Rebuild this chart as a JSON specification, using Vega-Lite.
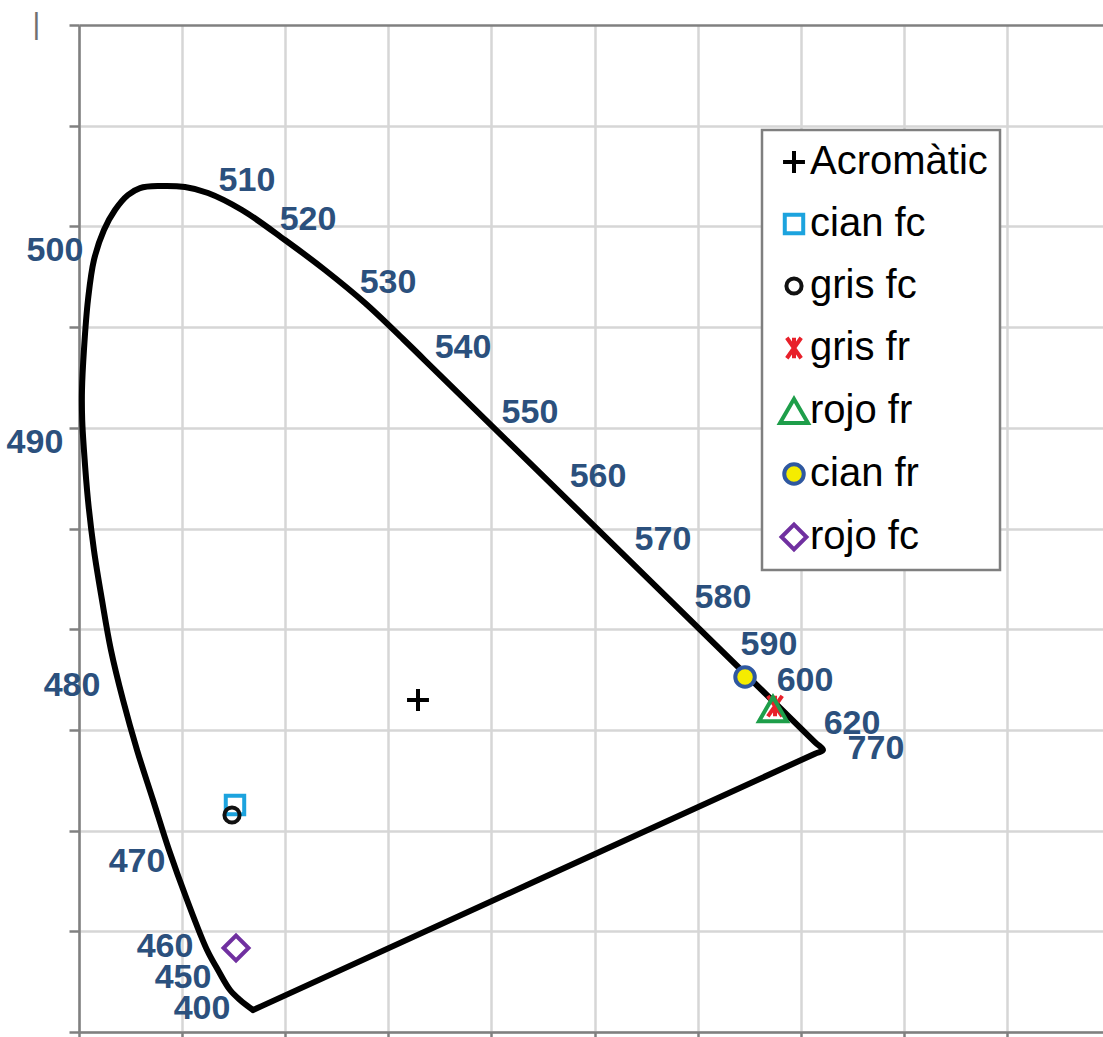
{
  "$schema": "https://vega.github.io/schema/vega-lite/v6.json",
  "width": 1024,
  "height": 1007,
  "autosize": {"type": "none"},
  "padding": {"left": 79, "top": 25, "right": 0, "bottom": 5},
  "background": "white",
  "config": {
    "view": {"stroke": null},
    "font": "Liberation Sans",
    "axis": {
      "labels": false,
      "title": null,
      "domainColor": "#808080",
      "domainWidth": 2.5,
      "tickColor": "#808080",
      "tickWidth": 2.5,
      "tickSize": 10,
      "gridColor": "#d6d6d6",
      "gridWidth": 2.5
    },
    "legend": {
      "orient": "none",
      "legendX": 683,
      "legendY": 105,
      "title": null,
      "labelFontSize": 40,
      "labelFont": "Liberation Sans",
      "labelColor": "black",
      "padding": 12,
      "rowPadding": 22,
      "strokeColor": "#7f7f7f",
      "strokeWidth": 2.5,
      "fillColor": "white",
      "labelOffset": -4,
      "symbolStrokeWidth": 4,
      "labelLimit": 400
    }
  },
  "datasets": {
    "locus": [
      {"i": 0, "x": 1.688, "y": 0.218},
      {"i": 1, "x": 1.562, "y": 0.318},
      {"i": 2, "x": 1.465, "y": 0.417},
      {"i": 3, "x": 1.348, "y": 0.616},
      {"i": 4, "x": 1.242, "y": 0.814},
      {"i": 5, "x": 1.048, "y": 1.311},
      {"i": 6, "x": 0.873, "y": 1.807},
      {"i": 7, "x": 0.718, "y": 2.304},
      {"i": 8, "x": 0.563, "y": 2.800},
      {"i": 9, "x": 0.427, "y": 3.297},
      {"i": 10, "x": 0.310, "y": 3.793},
      {"i": 11, "x": 0.223, "y": 4.290},
      {"i": 12, "x": 0.145, "y": 4.786},
      {"i": 13, "x": 0.087, "y": 5.283},
      {"i": 14, "x": 0.048, "y": 5.780},
      {"i": 15, "x": 0.031, "y": 6.078},
      {"i": 16, "x": 0.029, "y": 6.375},
      {"i": 17, "x": 0.048, "y": 6.773},
      {"i": 18, "x": 0.087, "y": 7.269},
      {"i": 19, "x": 0.145, "y": 7.666},
      {"i": 20, "x": 0.242, "y": 7.964},
      {"i": 21, "x": 0.349, "y": 8.163},
      {"i": 22, "x": 0.475, "y": 8.312},
      {"i": 23, "x": 0.592, "y": 8.381},
      {"i": 24, "x": 0.786, "y": 8.401},
      {"i": 25, "x": 1.028, "y": 8.391},
      {"i": 26, "x": 1.251, "y": 8.332},
      {"i": 27, "x": 1.581, "y": 8.163},
      {"i": 28, "x": 1.998, "y": 7.865},
      {"i": 29, "x": 2.386, "y": 7.567},
      {"i": 30, "x": 2.774, "y": 7.239},
      {"i": 31, "x": 3.143, "y": 6.882},
      {"i": 32, "x": 3.347, "y": 6.678},
      {"i": 33, "x": 7.135, "y": 2.882},
      {"i": 34, "x": 7.216, "y": 2.800},
      {"i": 35, "x": 7.133, "y": 2.761},
      {"i": 36, "x": 1.771, "y": 0.257},
      {"i": 37, "x": 1.688, "y": 0.218}
    ],
    "labels": [
      {"nm": "510", "x": 1.629, "y": 8.451},
      {"nm": "520", "x": 2.221, "y": 8.064},
      {"nm": "530", "x": 2.997, "y": 7.438},
      {"nm": "540", "x": 3.725, "y": 6.792},
      {"nm": "550", "x": 4.374, "y": 6.147},
      {"nm": "560", "x": 5.034, "y": 5.511},
      {"nm": "570", "x": 5.664, "y": 4.886},
      {"nm": "580", "x": 6.246, "y": 4.310},
      {"nm": "590", "x": 6.692, "y": 3.843},
      {"nm": "600", "x": 7.042, "y": 3.486},
      {"nm": "620", "x": 7.498, "y": 3.059},
      {"nm": "770", "x": 7.730, "y": 2.810},
      {"nm": "500", "x": -0.233, "y": 7.756},
      {"nm": "490", "x": -0.427, "y": 5.849},
      {"nm": "480", "x": -0.068, "y": 3.436},
      {"nm": "470", "x": 0.563, "y": 1.688},
      {"nm": "460", "x": 0.834, "y": 0.844},
      {"nm": "450", "x": 1.009, "y": 0.536},
      {"nm": "400", "x": 1.193, "y": 0.228}
    ],
    "points": [
      {"serie": "Acromàtic", "x": 3.288, "y": 3.297},
      {"serie": "cian fc", "x": 1.513, "y": 2.254},
      {"serie": "gris fc", "x": 1.484, "y": 2.155},
      {"serie": "gris fr", "x": 6.751, "y": 3.237},
      {"serie": "rojo fr", "x": 6.731, "y": 3.207},
      {"serie": "cian fr", "x": 6.460, "y": 3.525},
      {"serie": "rojo fc", "x": 1.523, "y": 0.834}
    ]
  },
  "layer": [
    {
      "data": {"name": "locus"},
      "mark": {"type": "line", "stroke": "black", "strokeWidth": 6, "strokeJoin": "round", "strokeCap": "round", "interpolate": "catmull-rom"},
      "encoding": {
        "x": {
          "field": "x", "type": "quantitative",
          "scale": {"domain": [0, 9.932], "nice": false, "zero": false},
          "axis": {"values": [0, 1, 2, 3, 4, 5, 6, 7, 8, 9], "grid": true}
        },
        "y": {
          "field": "y", "type": "quantitative",
          "scale": {"domain": [0, 10], "nice": false, "zero": false},
          "axis": {
            "values": [0, 1, 2, 3, 4, 5, 6, 7, 8, 9, 10],
            "grid": true,
            "gridColor": {"condition": {"test": "datum.value === 10", "value": "#808080"}, "value": "#d6d6d6"},
            "title": "|",
            "titleAngle": 0,
            "titleX": -43,
            "titleY": -1,
            "titleFontSize": 30,
            "titleFontWeight": "normal",
            "titleColor": "#707070",
            "titleAlign": "center",
            "titleBaseline": "middle"
          }
        },
        "order": {"field": "i", "type": "quantitative"}
      }
    },
    {
      "data": {"name": "labels"},
      "mark": {"type": "text", "font": "Liberation Sans", "fontWeight": "bold", "fontSize": 34, "fill": "#2B507D", "align": "center", "baseline": "middle"},
      "encoding": {
        "x": {"field": "x", "type": "quantitative"},
        "y": {"field": "y", "type": "quantitative"},
        "text": {"field": "nm"}
      }
    },
    {
      "data": {"name": "points"},
      "mark": {"type": "point", "strokeWidth": 4, "opacity": 1, "filled": false},
      "encoding": {
        "x": {"field": "x", "type": "quantitative"},
        "y": {"field": "y", "type": "quantitative"},
        "shape": {
          "field": "serie", "type": "nominal",
          "scale": {
            "domain": ["Acromàtic", "cian fc", "gris fc", "gris fr", "rojo fr", "cian fr", "rojo fc"],
            "range": ["M-1,0L1,0M0,-1L0,1", "square", "circle", "M0,-1L0,1M-0.7,-1L0.7,1M-0.7,1L0.7,-1", "triangle-up", "circle", "diamond"]
          }
        },
        "stroke": {
          "field": "serie", "type": "nominal",
          "scale": {
            "domain": ["Acromàtic", "cian fc", "gris fc", "gris fr", "rojo fr", "cian fr", "rojo fc"],
            "range": ["#000000", "#1CA3DE", "#111111", "#E8202A", "#1E9E4A", "#2F58A0", "#7030A0"]
          }
        },
        "fill": {
          "field": "serie", "type": "nominal",
          "scale": {
            "domain": ["Acromàtic", "cian fc", "gris fc", "gris fr", "rojo fr", "cian fr", "rojo fc"],
            "range": ["transparent", "#ffffff", "transparent", "transparent", "transparent", "#F5EC00", "transparent"]
          }
        },
        "size": {
          "field": "serie", "type": "nominal",
          "scale": {
            "type": "ordinal",
            "domain": ["Acromàtic", "cian fc", "gris fc", "gris fr", "rojo fr", "cian fr", "rojo fc"],
            "range": [480, 340, 230, 420, 780, 380, 620]
          }
        }
      }
    }
  ]
}
